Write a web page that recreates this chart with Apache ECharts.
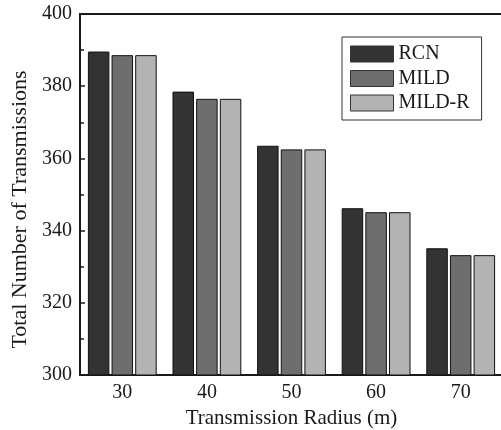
<!DOCTYPE html>
<html>
<head>
<meta charset="utf-8">
<script src="https://cdn.jsdelivr.net/npm/echarts@6/dist/echarts.min.js"></script>
<style>
  html, body { margin: 0; padding: 0; background: #fff; }
  #chart { width: 501px; height: 430px; }
</style>
</head>
<body>
<div id="chart"></div>
<script>
// Transmission radius categories (m)
const radii = ['30', '40', '50', '60', '70'];
// Total number of transmissions per scheme
const rcn   = [389.6, 378.5, 363.5, 346.2, 335.1];
const mild  = [388.6, 376.5, 362.5, 345.1, 333.2];
const mildR = [388.6, 376.5, 362.5, 345.1, 333.2];
// Y axis range
const yMin = 300, yMax = 400, yStep = 20;

const FONT = '"Liberation Serif", "Times New Roman", serif';
const INK = '#1a1a1a';

const chart = echarts.init(document.getElementById('chart'), null, { renderer: 'canvas' });

function barSeries(name, data, color) {
  return {
    name: name,
    type: 'bar',
    data: data,
    barWidth: 21.5,
    barGap: '10%',
    itemStyle: { color: color, borderColor: '#111', borderWidth: 1 }
  };
}

chart.setOption({
  animation: false,
  backgroundColor: '#fff',
  grid: {
    left: 80, right: -2, top: 14, bottom: 55,
    outerBoundsMode: 'none',
    containLabel: false,
    show: true, borderColor: INK, borderWidth: 2, backgroundColor: 'transparent'
  },
  legend: {
    left: 342, top: 37,
    orient: 'vertical',
    icon: 'rect',
    itemWidth: 43, itemHeight: 16, itemGap: 4.5,
    padding: [7, 12, 7, 8],
    borderColor: '#333', borderWidth: 1,
    backgroundColor: '#fff',
    textStyle: { fontFamily: FONT, fontSize: 20, color: INK, padding: [0, 0, 0, 0] },
    itemStyle: { borderColor: '#333', borderWidth: 1 },
    data: ['RCN', 'MILD', 'MILD-R']
  },
  xAxis: [
    {
      type: 'category',
      data: radii,
      name: 'Transmission Radius (m)',
      nameLocation: 'middle',
      nameGap: 24,
      nameTextStyle: { fontFamily: FONT, fontSize: 21, color: INK },
      axisLine: { lineStyle: { color: INK, width: 2 } },
      axisTick: { alignWithLabel: true, inside: true, length: 6, lineStyle: { color: INK, width: 1.5 } },
      axisLabel: { fontFamily: FONT, fontSize: 20, color: INK, margin: 8 }
    },
    {
      type: 'category',
      data: radii,
      position: 'bottom',
      axisLine: { show: false },
      axisTick: { inside: true, length: 3, lineStyle: { color: INK, width: 1.5 } },
      axisLabel: { show: false }
    }
  ],
  yAxis: {
    type: 'value',
    min: yMin, max: yMax, interval: yStep,
    name: 'Total Number of Transmissions',
    nameLocation: 'middle',
    nameGap: 47,
    nameTextStyle: { fontFamily: FONT, fontSize: 22, color: INK, padding: [0, 30, 0, 0] },
    axisLine: { show: true, lineStyle: { color: INK, width: 2 } },
    axisTick: { show: true, inside: true, length: 5, lineStyle: { color: INK, width: 1.5 } },
    minorTick: { show: true, splitNumber: 2, length: 4, lineStyle: { color: INK, width: 1.5 } },
    splitLine: { show: false },
    axisLabel: { fontFamily: FONT, fontSize: 20, color: INK, margin: 8 }
  },
  series: [
    barSeries('RCN', rcn, '#333333'),
    barSeries('MILD', mild, '#6e6e6e'),
    barSeries('MILD-R', mildR, '#b3b3b3')
  ]
});
</script>
</body>
</html>
